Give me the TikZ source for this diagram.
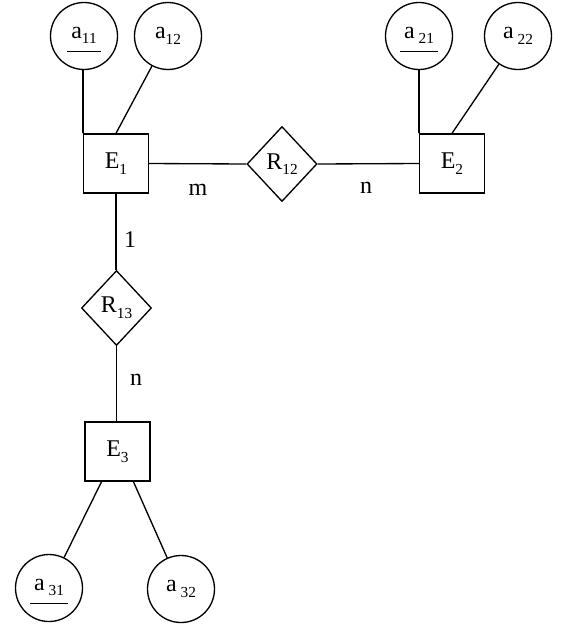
\documentclass[tikz,border=0pt]{standalone}
\usepackage{fontspec}
\setmainfont{Liberation Serif}
\usetikzlibrary{shapes.geometric,calc}
\newcommand{\sbs}[1]{{\fontsize{11.5}{11.5}\selectfont\raisebox{-4.2pt}{#1}}}
\newcommand{\keyu}[1]{\setbox0\hbox{\kern3pt\rule{0pt}{14pt}#1\kern3pt}\vtop{\box0\kern5.5pt\hrule height 0.9pt}}
\begin{document}
\begin{tikzpicture}[x=0.75pt,y=-0.75pt,
  every node/.style={font=\fontsize{18}{20}\selectfont},
  line/.style={line width=1pt},
  attr/.style={circle,draw,line width=1pt,minimum size=50.25pt,inner sep=0pt},
  ent/.style={rectangle,draw,line width=1pt,minimum width=48.75pt,minimum height=44.25pt,inner sep=0pt},
  rel/.style={diamond,draw,line width=1pt,minimum width=52.5pt,minimum height=56.25pt,inner sep=0pt},
  card/.style={inner sep=0pt}]
\useasboundingbox (0,0) rectangle (584,633);
% entities
\node[ent] (E1) at (116,163.5) {E\sbs{1}};
\node[ent] (E2) at (452,163.5) {E\sbs{2}};
\node[ent] (E3) at (117.5,451.5) {E\sbs{3}};
% relationships
\node[rel] (R12) at (282,164) {R\sbs{12}};
\node[rel] (R13) at (116.5,308) {R\sbs{13}};
% attributes
\node[attr] (a11) at (84,36) {\keyu{a\sbs{11}}};
\node[attr] (a12) at (168,36) {a\sbs{12}};
\node[attr] (a21) at (419,36) {\keyu{a\,\sbs{21}}};
\node[attr] (a22) at (518,36) {a\,\sbs{22}};
\node[attr] (a31) at (49,588) {\keyu{a\,\sbs{31}}};
\node[attr] (a32) at (181,589) {a\,\sbs{32}};
% connection points
\coordinate (e3l) at ($(E3.south west)!0.26!(E3.south east)$);
\coordinate (e3r) at ($(E3.south west)!0.74!(E3.south east)$);
% connectors
\draw[line] (E1.north west) -- (E1.north west |- a11.south);
\draw[line] (a12) -- (E1.north);
\draw[line] (E2.north west) -- (E2.north west |- a21.south);
\draw[line] (a22) -- (E2.north);
\draw[line] (E1.east) -- (R12.west);
\draw[line] (R12.east) -- (E2.west);
\draw[line] (E1.south) -- (E1.south |- R13.north);
\draw[line] (R13.south) -- (R13.south |- E3.north);
\draw[line] (e3l) -- (a31);
\draw[line] (e3r) -- (a32);
% cardinalities
\node[card] (m) at (198,190) {m};
\node[card] (n1) at (366,188) {n};
\node[card] (one) at (130,240) {1};
\node[card] (n2) at (136,380) {n};
\end{tikzpicture}
\end{document}
